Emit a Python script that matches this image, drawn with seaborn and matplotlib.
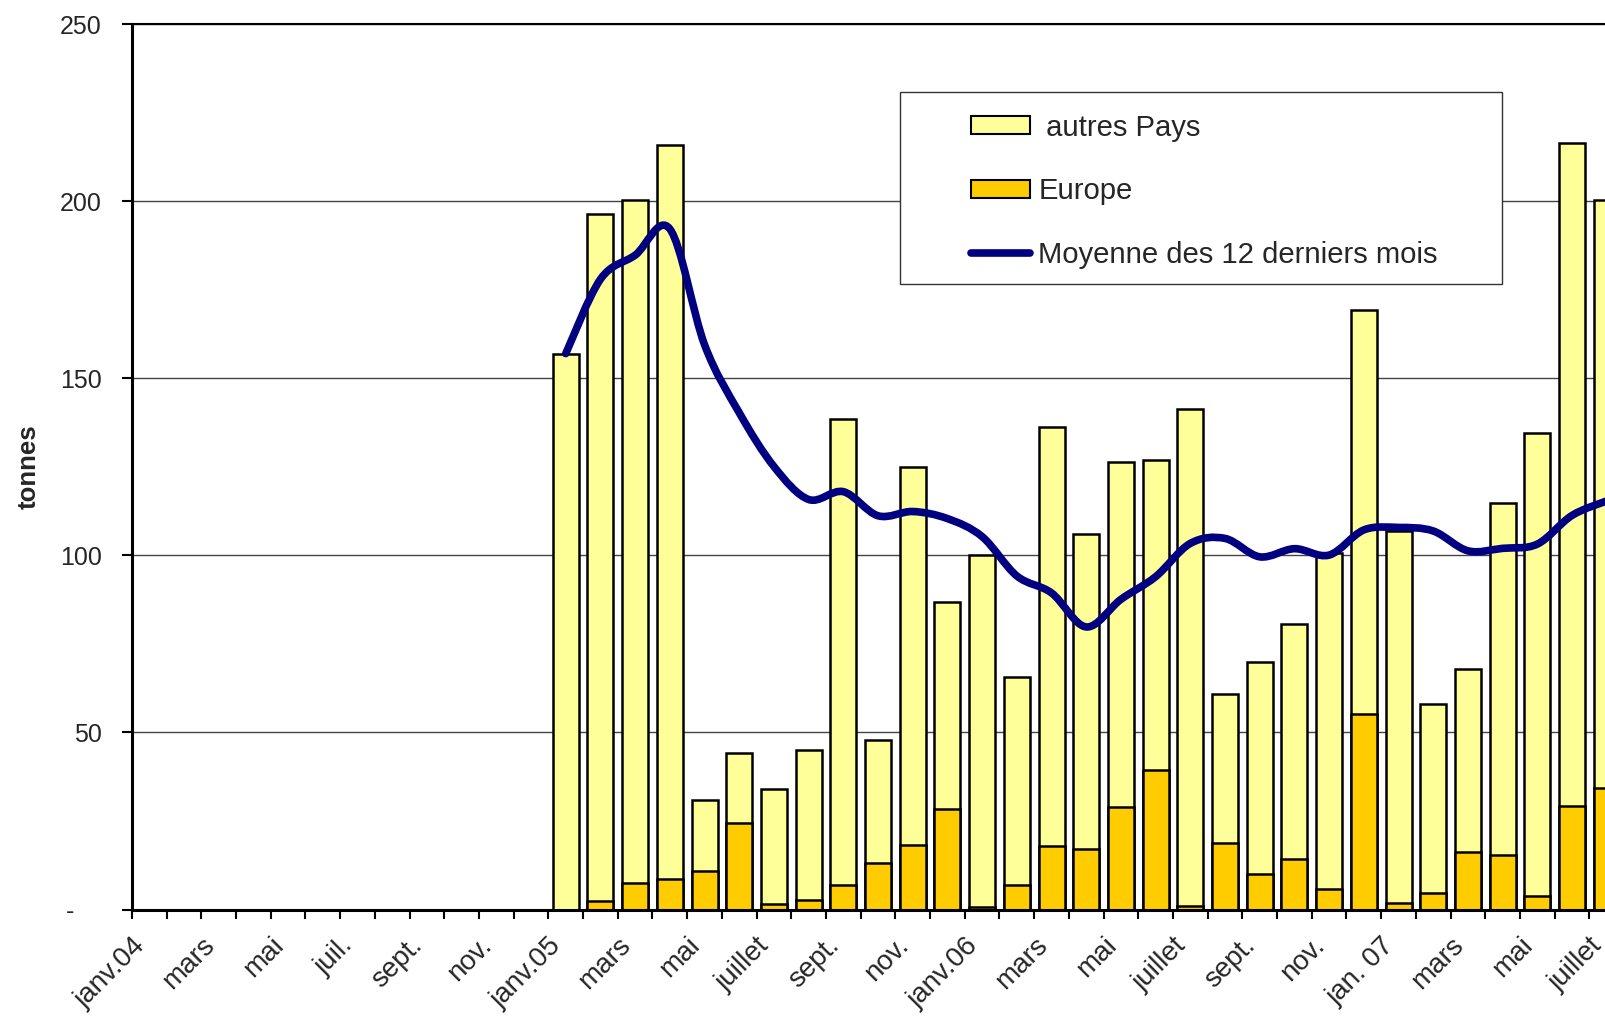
import numpy as np
import pandas as pd
import matplotlib
matplotlib.use("Agg")
import matplotlib.pyplot as plt
import seaborn as sns
from matplotlib.path import Path
from matplotlib.patches import PathPatch, Patch, Rectangle
from matplotlib.lines import Line2D

# Axis labels, every second month from janv.04 to juillet 07
tick_labels = ["janv.04", "mars", "mai", "juil.", "sept.", "nov.",
               "janv.05", "mars", "mai", "juillet", "sept.", "nov.",
               "janv.06", "mars", "mai", "juillet", "sept.", "nov.",
               "jan. 07", "mars", "mai", "juillet"]

# Monthly values, janv.05 .. juil.07 (month index 12 .. 42 from janv.04)
mois_idx = list(range(12, 43))
europe = [0, 2.5, 7.6, 8.7, 11, 24.5, 1.6, 2.8, 6.9, 13.2, 18.2, 28.3,
          0.7, 6.8, 17.9, 17, 28.9, 39.5, 0.9, 18.8, 10.1, 14.3, 5.8, 55.2,
          1.8, 4.6, 16.2, 15.5, 3.7, 29.1, 34.2]
autres_pays = [157, 194, 192.8, 207.1, 20, 19.8, 32.4, 42.2, 131.6, 34.8, 106.8, 58.5,
               99.3, 58.8, 118.4, 89, 97.6, 87.5, 140.4, 42.2, 59.9, 66.2, 94.9, 114,
               105.2, 53.4, 51.7, 99.2, 130.8, 187.4, 166.3]
moyenne_12 = [157, 178, 184.8, 192.2, 159.5, 140.3, 125.1, 115.8, 118, 111.2, 112.4, 110.4,
              105.3, 94.2, 89.4, 79.8, 87.6, 94, 103.4, 104.8, 99.6, 101.9, 100.1, 107.2,
              107.9, 106.9, 101.3, 102, 103.2, 111.3, 115.4]

df = pd.DataFrame({"mois": mois_idx, "europe": europe, "autres": autres_pays,
                   "moyenne": moyenne_12})
df["total"] = df["europe"] + df["autres"]

sns.set_style("white")
plt.rcParams["font.family"] = ["Liberation Sans", "DejaVu Sans"]

W, H = 1606, 1017
fig = plt.figure(figsize=(W / 100, H / 100), dpi=100)
ax = fig.add_axes([132 / W, 107.5 / H, (W - 132) / W, 885.2 / H])

jaune = "#FFFF99"
orange = "#FFCC00"
bleu = "#000080"

sns.barplot(data=df, x="mois", y="total", native_scale=True, width=0.75,
            color=jaune, saturation=1, edgecolor="black", linewidth=1.8,
            errorbar=None, ax=ax, zorder=2)
sns.barplot(data=df, x="mois", y="europe", native_scale=True, width=0.75,
            color=orange, saturation=1, edgecolor="black", linewidth=1.8,
            errorbar=None, ax=ax, zorder=2)

# smoothed line (Catmull-Rom style bezier through the points)
xs = df["mois"].to_numpy(dtype=float)
ys = df["moyenne"].to_numpy(dtype=float)
n = len(xs)
verts = [(xs[0], ys[0])]
codes = [Path.MOVETO]
for i in range(n - 1):
    i0, i3 = max(i - 1, 0), min(i + 2, n - 1)
    c1 = (xs[i] + (xs[i + 1] - xs[i0]) / 6, ys[i] + (ys[i + 1] - ys[i0]) / 6)
    c2 = (xs[i + 1] - (xs[i3] - xs[i]) / 6, ys[i + 1] - (ys[i3] - ys[i]) / 6)
    verts += [c1, c2, (xs[i + 1], ys[i + 1])]
    codes += [Path.CURVE4] * 3
ax.add_patch(PathPatch(Path(verts, codes), facecolor="none", edgecolor=bleu,
                       lw=5.5, capstyle="round", joinstyle="round", zorder=4))

# axes
ax.set_yticks([0, 50, 100, 150, 200, 250])
ax.set_yticklabels(["-    ", "50", "100", "150", "200", "250"])
ax.yaxis.grid(True, color="#444444", linewidth=1.0)
ax.xaxis.grid(False)
ax.set_axisbelow(True)

bounds = np.arange(-0.5, 43, 1)
labs = [tick_labels[int(b + 0.5) // 2] if int(b + 0.5) % 2 == 0 else "" for b in bounds]
ax.set_xticks(bounds)
ax.set_xticklabels(labs, rotation=45, ha="right", va="top", rotation_mode="anchor")
ax.set_xlabel("")
# limits after ticks (set_xticks widens the view)
ax.set_xlim(-0.5, -0.5 + (W - 132) / 34.7)
ax.set_ylim(0, 250)
ax.tick_params(axis="x", direction="out", length=6.5, width=1.5, labelsize=20, pad=10,
               color="black", bottom=True)
ax.tick_params(axis="y", direction="out", length=7.2, width=1.5, labelsize=18, pad=14.4,
               color="black", left=True)

for side in ["left", "bottom"]:
    ax.spines[side].set_linewidth(2.2)
    ax.spines[side].set_color("black")
ax.spines["top"].set_linewidth(1.5)
ax.spines["top"].set_color("black")
ax.spines["right"].set_visible(False)

ax.set_ylabel("tonnes", fontsize=18.5, fontweight="bold")
ax.yaxis.set_label_coords(-0.062, 0.5)

# legend box
ax.add_patch(Rectangle((900 / W, 1 - 284.3 / H), 602 / W, 192 / H, transform=fig.transFigure,
                       facecolor="white", edgecolor="#333333", lw=1.0, zorder=5,
                       clip_on=False))
handles = [Patch(facecolor=jaune, edgecolor="black", lw=1.5),
           Patch(facecolor=orange, edgecolor="black", lw=1.5),
           Line2D([], [], color=bleu, lw=5.5, solid_capstyle="round")]
leg = ax.legend(handles, [" autres Pays", "Europe", "Moyenne des 12 derniers mois"],
                loc="upper left", bbox_to_anchor=(971 / W, 1 - 113.5 / H),
                bbox_transform=fig.transFigure, frameon=False, fontsize=21.1,
                borderpad=0, borderaxespad=0, handlelength=2.0, handleheight=0.55,
                handletextpad=0.3, labelspacing=1.22)
leg.set_zorder(6)

fig.savefig("out.png", dpi=100)
